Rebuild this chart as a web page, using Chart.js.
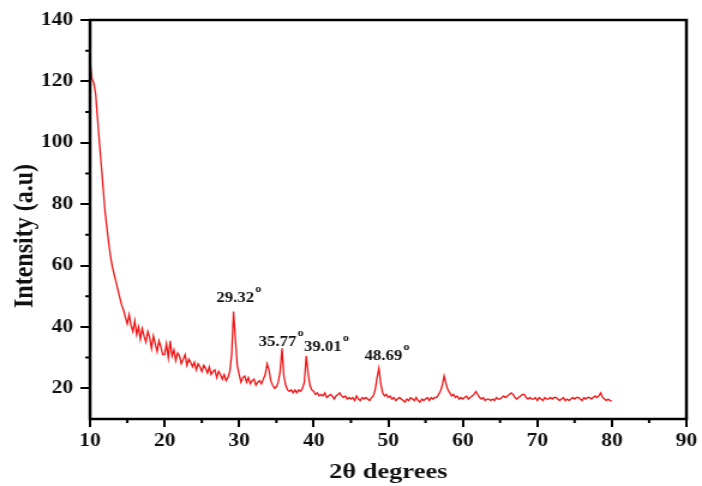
<!DOCTYPE html>
<html>
<head>
<meta charset="utf-8">
<script src="https://cdn.jsdelivr.net/npm/chart.js@4.4.1/dist/chart.umd.min.js"></script>
<style>
  html, body { margin: 0; padding: 0; background: #fff; overflow: hidden; }
  /* the source figure is stretched ~1.2x horizontally, so is this one */
  #wrap { width: 585px; height: 486px; transform: scaleX(1.2); transform-origin: 0 0; }
</style>
</head>
<body>
<div id="wrap"><canvas id="xrd" width="585" height="486"></canvas></div>
<script>
// scan angles (2theta, degrees)
const twoTheta = [
  10, 10.25, 10.5, 10.75, 11, 11.25, 11.5, 11.75, 12, 12.25, 12.5, 12.75,
  13, 13.25, 13.5, 13.75, 14, 14.25, 14.5, 14.75, 15, 15.25, 15.5, 15.75,
  16, 16.25, 16.5, 16.75, 17, 17.25, 17.5, 17.75, 18, 18.25, 18.5, 18.75,
  19, 19.25, 19.5, 19.75, 20, 20.25, 20.5, 20.75, 21, 21.25, 21.5, 21.75,
  22, 22.25, 22.5, 22.75, 23, 23.25, 23.5, 23.75, 24, 24.25, 24.5, 24.75,
  25, 25.25, 25.5, 25.75, 26, 26.25, 26.5, 26.75, 27, 27.25, 27.5, 27.75,
  28, 28.25, 28.5, 28.75, 29, 29.25, 29.5, 29.75, 30, 30.25, 30.5, 30.75,
  31, 31.25, 31.5, 31.75, 32, 32.25, 32.5, 32.75, 33, 33.25, 33.5, 33.75,
  34, 34.25, 34.5, 34.75, 35, 35.25, 35.5, 35.75, 36, 36.25, 36.5, 36.75,
  37, 37.25, 37.5, 37.75, 38, 38.25, 38.5, 38.75, 39, 39.25, 39.5, 39.75,
  40, 40.25, 40.5, 40.75, 41, 41.25, 41.5, 41.75, 42, 42.25, 42.5, 42.75,
  43, 43.25, 43.5, 43.75, 44, 44.25, 44.5, 44.75, 45, 45.25, 45.5, 45.75,
  46, 46.25, 46.5, 46.75, 47, 47.25, 47.5, 47.75, 48, 48.25, 48.5, 48.75,
  49, 49.25, 49.5, 49.75, 50, 50.25, 50.5, 50.75, 51, 51.25, 51.5, 51.75,
  52, 52.25, 52.5, 52.75, 53, 53.25, 53.5, 53.75, 54, 54.25, 54.5, 54.75,
  55, 55.25, 55.5, 55.75, 56, 56.25, 56.5, 56.75, 57, 57.25, 57.5, 57.75,
  58, 58.25, 58.5, 58.75, 59, 59.25, 59.5, 59.75, 60, 60.25, 60.5, 60.75,
  61, 61.25, 61.5, 61.75, 62, 62.25, 62.5, 62.75, 63, 63.25, 63.5, 63.75,
  64, 64.25, 64.5, 64.75, 65, 65.25, 65.5, 65.75, 66, 66.25, 66.5, 66.75,
  67, 67.25, 67.5, 67.75, 68, 68.25, 68.5, 68.75, 69, 69.25, 69.5, 69.75,
  70, 70.25, 70.5, 70.75, 71, 71.25, 71.5, 71.75, 72, 72.25, 72.5, 72.75,
  73, 73.25, 73.5, 73.75, 74, 74.25, 74.5, 74.75, 75, 75.25, 75.5, 75.75,
  76, 76.25, 76.5, 76.75, 77, 77.25, 77.5, 77.75, 78, 78.25, 78.5, 78.75,
  79, 79.25, 79.5, 79.75, 80
];

// intensity, one row per degree
const intensity = [
  127, 121, 119.5, 116,   108, 100.5, 93, 85.5,   78, 72.5, 67.5, 63,
  59.5, 57, 54.5, 52,     49.5, 47, 45.5, 43,     41, 44, 40.5, 38.5,
  42, 37.5, 40, 36,       39.5, 37, 35, 38.5,     36.5, 33, 37, 34.5,
  32, 35.5, 33.5, 31,     31, 34.5, 30, 35.5,     30.5, 32.5, 29, 31.5,
  30.5, 28, 29.5, 31,     27.5, 29.5, 28.5, 27,   28.5, 26, 28, 27,
  25.5, 27.5, 26.5, 25,   27, 24.5, 25.5, 26,     23.5, 25.5, 24.5, 23,
  24.5, 22.5, 23.5, 25.5, 31, 45, 36, 27.5,       24.5, 22, 23.5, 24,
  22, 23.5, 21.5, 22.5,   23, 21, 22, 22.5,       21.5, 23, 24.5, 28,
  26, 22.5, 21, 20,       20.5, 22, 25.5, 33,     24, 21, 19.5, 19,
  19.5, 18.5, 19.5, 18.5, 19.5, 19, 20, 22,       30.5, 25, 21, 19.5,
  19, 18, 18.5, 17.5,     18, 17.5, 18.5, 17,     17.5, 18, 17.5, 16.5,
  17.5, 18, 18.5, 17.5,   17, 17.5, 16.5, 17,     16.5, 17, 16, 17.5,
  16.5, 16, 17, 16.5,     17, 16.5, 16, 17,       17.5, 19.5, 23.5, 26.5,
  21.5, 18.5, 17.5, 18,   17, 17.5, 16.5, 17,     16, 16.5, 17, 16.5,
  16, 15.5, 16.5, 16,     17, 16.5, 16, 17,       16, 15.5, 16.5, 16,
  16.5, 17, 16, 17,       16.5, 17, 17, 18,       19, 21, 24, 21.5,
  19.5, 18.5, 17.5, 18,   17, 17.5, 16.5, 17,     16.5, 17, 17.5, 16.5,
  17, 17.5, 18, 19,       18, 17, 16.5, 17,       16, 16.5, 16.5, 16,
  16.5, 16, 17, 16.5,     16.5, 17, 17.5, 17,     17.5, 18, 18.5, 18,
  17, 16.5, 17, 17.5,     18, 18, 17, 16.5,       17, 16.5, 16.5, 17,
  16, 17, 16.5, 16,       17, 16.5, 16.5, 17,     16.5, 17, 17, 16.5,
  16, 16.5, 17, 16,       16.5, 16, 16.5, 17,     16.5, 17, 17, 16.5,
  16, 17, 16.5, 17,       17, 16.5, 17, 17.5,     17, 17.5, 18.5, 17,
  16.5, 16, 16.5, 16,     15.8
];

// axis ticks
const xTicks = [10, 20, 30, 40, 50, 60, 70, 80, 90];
const xMinorTicks = [15, 25, 35, 45, 55, 65, 75, 85];
const yTicks = [20, 40, 60, 80, 100, 120, 140];
const yMinorTicks = [30, 50, 70, 90, 110, 130];

// peak annotations (label text, anchor angle, anchor intensity)
const peakLabels = ['29.32', '35.77', '39.01', '48.69'];
const peakLabelX = [29.46, 35.15, 41.21, 49.37];
const peakLabelY = [48.1, 33.8, 32.1, 29.2];

const SERIF = '"Liberation Serif", "Times New Roman", serif';

const extras = {
  id: 'extras',
  afterDraw(chart) {
    const { ctx, chartArea: a, scales: { x, y } } = chart;
    ctx.save();
    ctx.strokeStyle = '#000';

    // box round the plot
    ctx.lineWidth = 2.5;
    ctx.strokeRect(a.left, a.top, a.right - a.left, a.bottom - a.top);

    // minor ticks
    ctx.lineWidth = 2;
    ctx.beginPath();
    xMinorTicks.forEach(v => {
      const px = x.getPixelForValue(v);
      ctx.moveTo(px, a.bottom);
      ctx.lineTo(px, a.bottom + 4);
    });
    yMinorTicks.forEach(v => {
      const py = y.getPixelForValue(v);
      ctx.moveTo(a.left, py);
      ctx.lineTo(a.left - 4, py);
    });
    ctx.stroke();

    // peak labels with superscript o
    ctx.fillStyle = '#111';
    ctx.textBaseline = 'alphabetic';
    peakLabels.forEach((t, i) => {
      const px = x.getPixelForValue(peakLabelX[i]);
      const py = y.getPixelForValue(peakLabelY[i]);
      ctx.font = 'bold 14px ' + SERIF;
      ctx.textAlign = 'center';
      ctx.fillText(t, px, py);
      const w = ctx.measureText(t).width;
      ctx.font = 'bold 10px ' + SERIF;
      ctx.textAlign = 'left';
      ctx.fillText('o', px + w / 2 + 1, py - 10);
    });

    // y axis title
    ctx.translate(21, 236);
    ctx.rotate(-Math.PI / 2);
    ctx.font = 'bold 24px ' + SERIF;
    ctx.textAlign = 'center';
    ctx.textBaseline = 'middle';
    ctx.fillText('Intensity (a.u)', 0, 0);
    ctx.restore();
  }
};

const ctx = document.getElementById('xrd').getContext('2d');

new Chart(ctx, {
  type: 'line',
  data: {
    datasets: [{
      label: 'XRD',
      data: twoTheta.map((t, i) => ({ x: t, y: intensity[i] })),
      borderColor: '#f01414',
      borderWidth: 1.3,
      pointRadius: 0,
      tension: 0,
      fill: false
    }]
  },
  options: {
    responsive: false,
    animation: false,
    layout: { padding: { top: 20, right: 11.7, left: 0, bottom: 0 } },
    plugins: {
      legend: { display: false },
      tooltip: { enabled: false }
    },
    scales: {
      x: {
        type: 'linear',
        min: 10,
        max: 90,
        afterBuildTicks: s => { s.ticks = xTicks.map(v => ({ value: v })); },
        afterFit: s => { s.height = 67; },
        border: { display: false },
        grid: { drawOnChartArea: false, color: '#000', lineWidth: 2, tickLength: 8 },
        ticks: {
          color: '#111',
          padding: 4,
          maxRotation: 0,
          font: { family: SERIF, size: 18, weight: 'bold' }
        },
        title: {
          display: true,
          text: '2θ degrees',
          color: '#111',
          padding: { top: 0, bottom: 0 },
          font: { family: SERIF, size: 22, weight: 'bold' }
        }
      },
      y: {
        type: 'linear',
        min: 10,
        max: 140,
        afterBuildTicks: s => { s.ticks = yTicks.map(v => ({ value: v })); },
        afterFit: s => { s.width = 75; },
        border: { display: false },
        grid: { drawOnChartArea: false, color: '#000', lineWidth: 2, tickLength: 8 },
        ticks: {
          color: '#111',
          padding: 6,
          font: { family: SERIF, size: 18, weight: 'bold' }
        }
      }
    }
  },
  plugins: [extras]
});
</script>
</body>
</html>
